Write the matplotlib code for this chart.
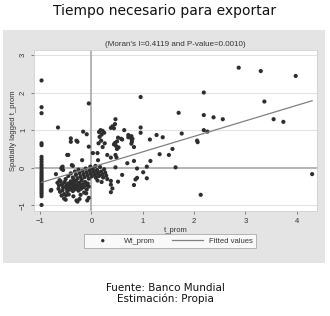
import matplotlib
matplotlib.use("Agg")
import matplotlib.pyplot as plt
from matplotlib.patches import Rectangle
import numpy as np

# t_prom vs spatially lagged t_prom (Wt_prom)
col_y = [2.32, 1.61, 1.45, 0.65, 0.60, 0.29, 0.22, 0.15, 0.08, 0.02, -0.04,
         -0.10, -0.15, -0.20, -0.25, -0.30, -0.35, -0.40, -0.45, -0.50,
         -0.55, -0.60, -0.65, -0.70, -0.76, -0.99]
col_x = [-0.97] * len(col_y)

lower_x = [-0.66, -0.63, -0.64, -0.61, -0.60, -0.57, -0.55, -0.56, -0.53, -0.52,
           -0.49, -0.48, -0.47, -0.45, -0.43, -0.42, -0.40, -0.39, -0.37, -0.36,
           -0.34, -0.33, -0.31, -0.30, -0.28, -0.27, -0.25, -0.24, -0.22, -0.20,
           -0.19, -0.17, -0.15, -0.14, -0.12, -0.10, -0.09, -0.07, -0.58, -0.44,
           -0.35, -0.62, -0.50, -0.21, -0.05]
lower_y = [-0.40, -0.47, -0.56, -0.64, -0.36, -0.44, -0.52, -0.60, -0.70, -0.38,
           -0.47, -0.55, -0.63, -0.42, -0.50, -0.58, -0.36, -0.45, -0.54, -0.62,
           -0.41, -0.49, -0.57, -0.35, -0.46, -0.53, -0.61, -0.40, -0.48, -0.56,
           -0.34, -0.44, -0.52, -0.66, -0.38, -0.47, -0.58, -0.42, -0.74, -0.71,
           -0.76, -0.33, -0.30, -0.72, -0.50]

upper_x = [-0.45, -0.40, -0.36, -0.32, -0.30, -0.27, -0.25, -0.23, -0.21, -0.19,
           -0.17, -0.15, -0.13, -0.11, -0.09, -0.07, -0.05, -0.03, -0.01, 0.01,
           0.03, 0.05, 0.07, 0.09, 0.11, 0.13, 0.15, 0.17, 0.19, 0.21,
           0.23, 0.25, 0.27, 0.29, 0.31, -0.02, 0.08, -0.34, 0.12, 0.20]
upper_y = [-0.22, -0.15, -0.26, -0.10, -0.19, -0.28, -0.05, -0.14, -0.23, -0.31,
           -0.08, -0.17, -0.25, -0.02, -0.12, -0.20, -0.29, -0.07, -0.15, -0.23,
           -0.03, -0.11, -0.19, -0.27, -0.06, -0.14, -0.22, 0.02, -0.10, -0.18,
           -0.26, -0.04, -0.13, -0.21, -0.30, 0.03, 0.05, -0.33, -0.34, -0.38]

other_x = [-0.05, -0.65, -0.40, -0.40, -0.27, -0.16, -0.09, -0.05, -0.45, -0.29,
           0.15, 0.18, 0.22, 0.25, 0.20, 0.16, 0.19, 0.14, 0.26, 0.22,
           0.44, 0.46, 0.47, 0.41, 0.38,
           0.31, 0.47, -0.47, -0.18, -0.38, -0.36, -0.58, -0.55, -0.69, -0.79,
           0.03, 0.12, 0.13, -0.58, -0.56,
           -0.53, -0.50, -0.27, -0.08, -0.05, -0.78, -0.49, -0.29, -0.23, -0.10,
           0.96, 0.64, 0.96, 0.96, 1.27, 1.39, 1.76, 0.72, 0.78, 1.14, 0.60, 2.06,
           0.52, 0.58, 0.50, 0.46, 0.44, 0.48, 0.53, 0.50,
           0.72, 0.78, 0.80, 0.79, 0.78, 0.83,
           1.58, 1.33, 1.51, 2.07,
           0.83, 0.70, 0.49, 0.38, 0.47, 0.89, 1.15, 1.08, 1.64, 1.01,
           1.08, 0.89, 0.86, 0.83, 0.60, 0.52, 0.38, 0.38, 0.41, 0.38,
           2.87, 3.30, 3.98, 2.19, 3.37, 1.70, 2.19, 2.38, 2.56, 3.55,
           3.74, 2.19, 2.26, 2.13, 4.30]
other_y = [1.71, 1.07, 0.78, 0.69, 0.69, 0.96, 0.89, 0.56, 0.34, 0.72,
           0.95, 1.00, 0.98, 0.93, 0.88, 0.82, 0.72, 0.65, 0.65, 0.55,
           1.05, 1.16, 1.29, 1.10, 1.06,
           0.34, 0.34, 0.34, 0.20, 0.07, 0.05, -0.03, -0.06, -0.17, -0.61,
           0.39, 0.39, 0.20, 0.00, 0.03,
           -0.82, -0.85, -0.90, -0.87, -0.80, -0.59, -0.73, -0.87, -0.83, -0.68,
           1.88, 1.00, 1.07, 0.93, 0.87, 0.81, 0.91, 0.81, 0.77, 0.75, 0.75, 0.72,
           0.80, 0.77, 0.70, 0.66, 0.62, 0.58, 0.54, 0.50,
           0.87, 0.84, 0.77, 0.70, 0.64, 0.55,
           0.50, 0.36, 0.34, 0.68,
           0.18, 0.12, 0.27, 0.27, 0.01, -0.02, 0.18, 0.03, 0.01, -0.12,
           -0.28, -0.27, -0.31, -0.46, -0.19, -0.37, -0.35, -0.45, -0.55, -0.65,
           2.66, 2.57, 2.44, 2.00, 1.76, 1.46, 1.40, 1.34, 1.29, 1.29,
           1.22, 1.00, 0.96, -0.72, -0.17]

t_prom = np.array(col_x + lower_x + upper_x + other_x)
wt_prom = np.array(col_y + lower_y + upper_y + other_y)

moran_i = 0.4119
p_value = 0.0010
fit_intercept = 0.01

W, H = 330, 316
fig = plt.figure(figsize=(W / 100, H / 100), dpi=100)
fig.patch.set_facecolor("white")

# gray graph region
fig.patches.append(Rectangle((3 / W, 1 - 263 / H), 322 / W, 233 / H,
                             transform=fig.transFigure, facecolor="#e4e4e4",
                             edgecolor="none", zorder=0))

ax = fig.add_axes([34 / W, 1 - 211 / H, 283 / W, 161 / H])
ax.set_facecolor("white")
ax.set_zorder(1)

ax.set_xlim(-1.117, 4.395)
ax.set_ylim(-1.15, 3.13)
ax.set_xticks([-1, 0, 1, 2, 3, 4])
ax.set_yticks([-1, 0, 1, 2, 3])
for yv in [-1, 1, 2, 3]:
    ax.axhline(yv, color="#e2e2e2", lw=0.8, zorder=1)

ax.axhline(0, color="#a8a8a8", lw=1.2, zorder=2)
ax.axvline(0, color="#a8a8a8", lw=1.2, zorder=2)

ax.scatter(t_prom, wt_prom, s=9, color="#2e2e2e", edgecolors="none",
           zorder=3, label="Wt_prom")

xf = np.array([t_prom.min(), t_prom.max()])
ax.plot(xf, fit_intercept + moran_i * xf, color="#808080", lw=0.9,
        zorder=4, label="Fitted values")

for s in ax.spines.values():
    s.set_color("#d0d0d0")
    s.set_linewidth(0.6)

ax.tick_params(axis="both", labelsize=5.5, colors="#555555", length=2.5,
               width=0.5, pad=2.5, labelcolor="#333333")
for lab in ax.get_yticklabels():
    lab.set_rotation(90)
    lab.set_va("center")

ax.set_xlabel("t_prom", fontsize=5.5, color="#333333", labelpad=1.5,
              family="Liberation Sans")
ax.set_ylabel("Spatially lagged t_prom", fontsize=5.5, color="#333333",
              labelpad=2, family="Liberation Sans")
for lab in ax.get_xticklabels() + ax.get_yticklabels():
    lab.set_family("Liberation Sans")

fig.text(175.5 / W, 1 - 44 / H,
         f"(Moran's I={moran_i:.4f} and P-value={p_value:.4f})",
         ha="center", va="center", fontsize=5.8, color="#333333",
         family="Liberation Sans")

leg = fig.legend(loc="center", bbox_to_anchor=(170 / W, 1 - 241 / H), ncol=2,
                 frameon=True, fancybox=False, borderpad=0.5,
                 handlelength=4, columnspacing=2.2, handletextpad=0.8,
                 markerscale=0.8, prop={"family": "Liberation Sans", "size": 5.5})
leg.get_frame().set_edgecolor("#999999")
leg.get_frame().set_linewidth(0.6)
for t in leg.get_texts():
    t.set_color("#333333")

fig.text(0.5, 1 - 11 / H, "Tiempo necesario para exportar", ha="center",
         va="center", fontsize=10, color="#111111")
fig.text(165 / W, 1 - 288 / H, "Fuente: Banco Mundial", ha="center",
         va="center", fontsize=7.5, color="#111111")
fig.text(165 / W, 1 - 299 / H, "Estimación: Propia", ha="center",
         va="center", fontsize=7.5, color="#111111")

fig.savefig("out.png", dpi=100)
